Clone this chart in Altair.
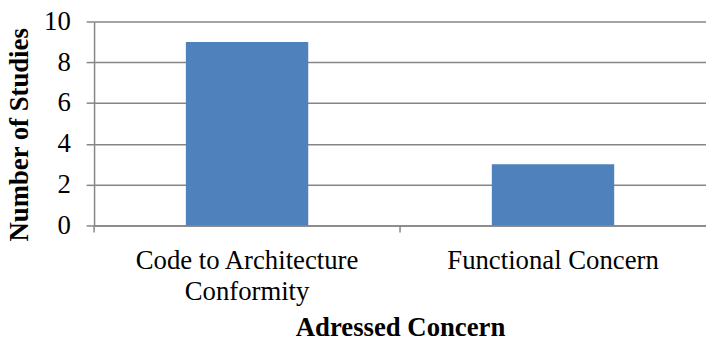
import altair as alt
import pandas as pd

# Studies per addressed concern
concerns = ["Code to Architecture Conformity", "Functional Concern"]
studies = [9, 3]
y_ticks = [0, 2, 4, 6, 8, 10]

df = pd.DataFrame({"concern": concerns, "studies": studies})

FONT = "Liberation Serif, Times New Roman, serif"
GRID = "#868686"
W, H = 618, 206

x_enc = alt.X(
    "concern:N",
    sort=concerns,
    scale=alt.Scale(paddingInner=0, paddingOuter=0),
    axis=alt.Axis(
        title="Adressed Concern",
        labelExpr="datum.value == 'Code to Architecture Conformity' ? ['Code to Architecture', 'Conformity'] : datum.value",
        labelAngle=0,
        labelLineHeight=32,
        labelPadding=22,
        labelBaseline="top",
        labelLimit=0,
        ticks=False,
        titlePadding=10,
    ),
)

bars = alt.Chart(df).mark_bar(
    color="#4F81BD", width=alt.RelativeBandSize(0.4)
).encode(
    x=x_enc,
    y=alt.Y(
        "studies:Q",
        scale=alt.Scale(domain=[0, 10], nice=False),
        axis=alt.Axis(
            title="Number of Studies",
            values=y_ticks,
            grid=True,
            tickSize=8,
            labelPadding=16,
            titlePadding=10,
            titleY=114,
        ),
    ),
)

# Category separator ticks at the start of each band
sep_ticks = alt.Chart(df).mark_rule(color=GRID, strokeWidth=1.5).encode(
    x=alt.X("concern:N", sort=concerns, bandPosition=0),
    y=alt.value(H),
    y2=alt.value(H + 7),
)

chart = (
    alt.layer(bars, sep_ticks)
    .properties(
        width=W,
        height=H,
        background="white",
        autosize=alt.AutoSizeParams(type="none"),
        padding={"left": 95, "top": 20, "right": 0, "bottom": 115},
    )
    .configure_view(stroke=None)
    .configure_axis(
        labelFont=FONT,
        labelFontSize=27,
        labelColor="black",
        titleFont=FONT,
        titleFontSize=27,
        titleFontWeight="bold",
        titleColor="black",
        gridColor=GRID,
        gridWidth=1.5,
        domainColor=GRID,
        domainWidth=1.5,
        tickColor=GRID,
        tickWidth=1.5,
    )
)

chart.save("out.html", embed_options={"renderer": "svg", "actions": False})
